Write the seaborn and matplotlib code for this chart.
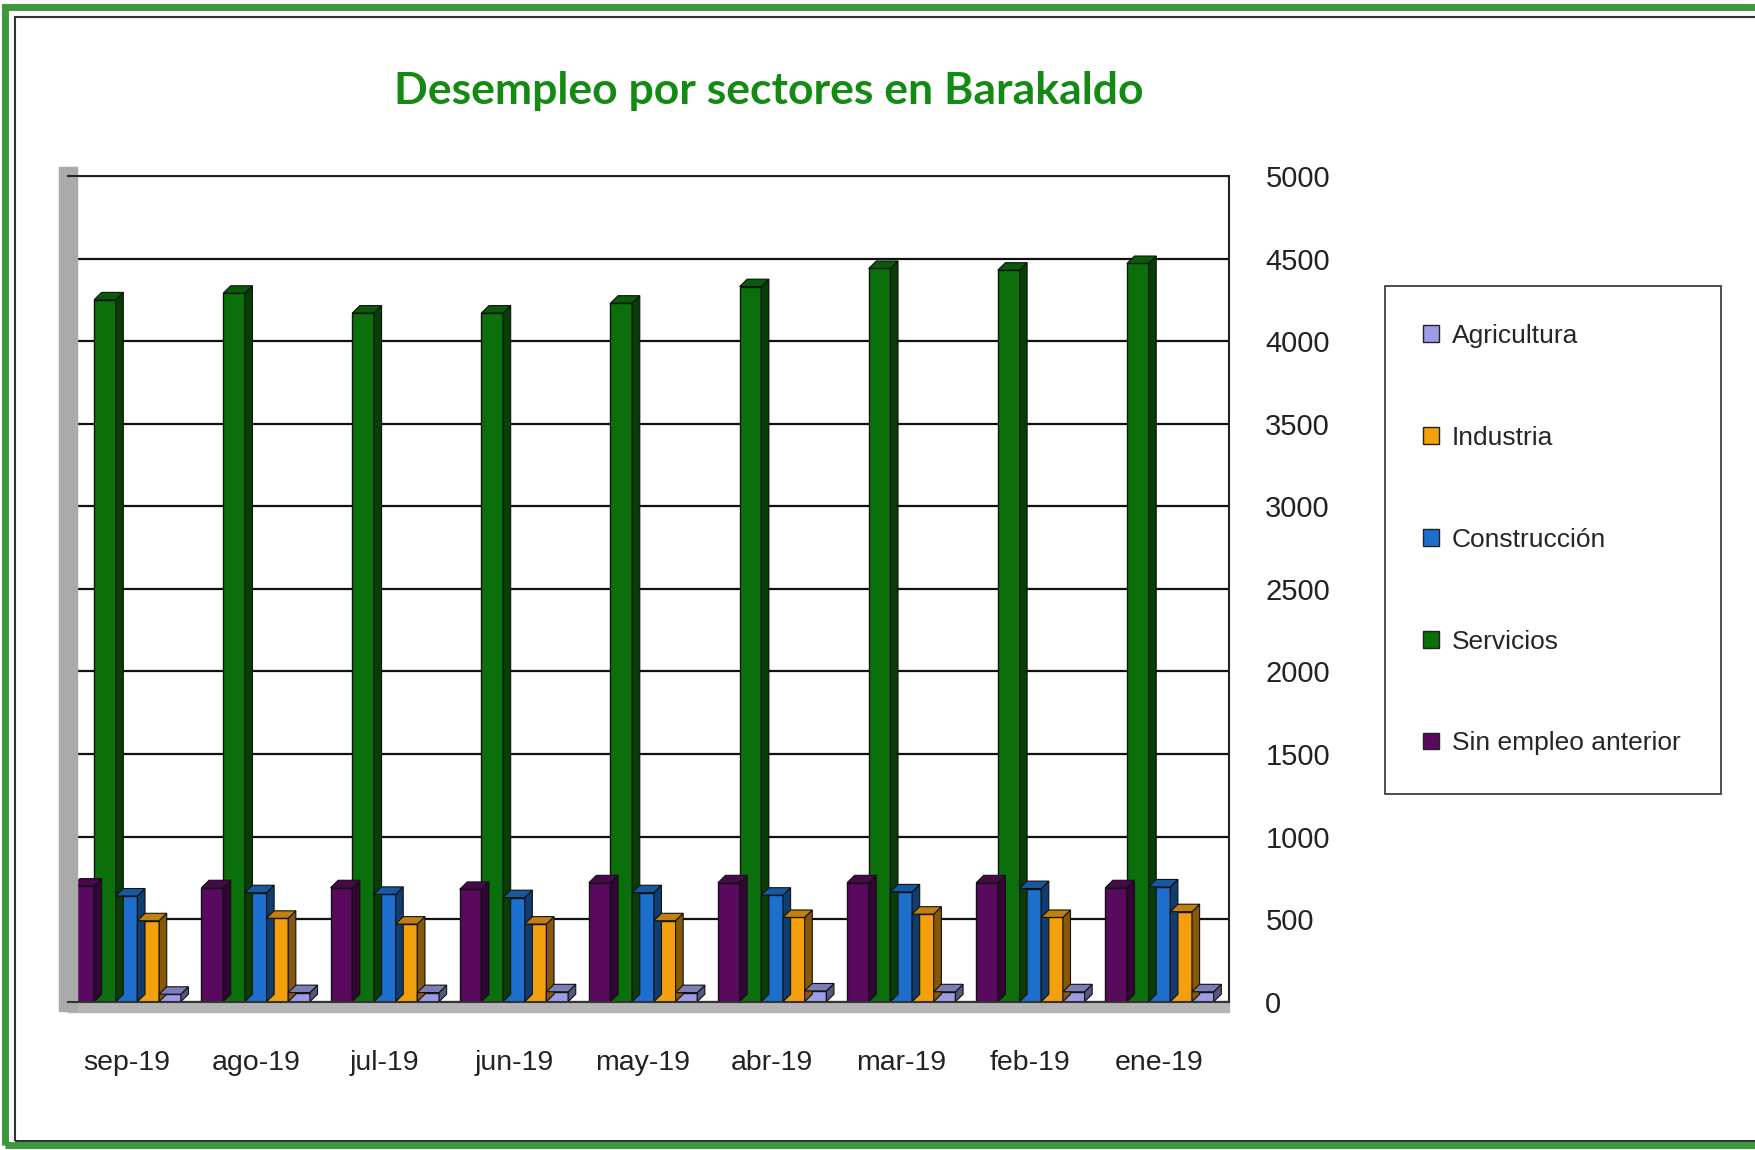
import numpy as np
import pandas as pd
import matplotlib
matplotlib.use("Agg")
import matplotlib.pyplot as plt
from matplotlib.patches import Polygon, Rectangle
import seaborn as sns

# Datos
months = ["sep-19", "ago-19", "jul-19", "jun-19", "may-19", "abr-19", "mar-19", "feb-19", "ene-19"]
sin_empleo = [700, 690, 690, 680, 720, 720, 720, 720, 690]
servicios = [4250, 4290, 4170, 4170, 4230, 4330, 4440, 4430, 4470]
construccion = [640, 660, 650, 630, 660, 645, 665, 685, 695]
industria = [490, 505, 470, 470, 490, 510, 530, 510, 545]
agricultura = [45, 55, 55, 60, 55, 65, 60, 60, 60]

sectors = ["Sin empleo anterior", "Servicios", "Construcción", "Industria", "Agricultura"]
colors = ["#5a0a5e", "#0b700b", "#1c6fcc", "#f4a00c", "#9c9ce6"]

df = pd.DataFrame({
    "mes": months * 5,
    "sector": np.repeat(sectors, len(months)),
    "valor": sin_empleo + servicios + construccion + industria + agricultura,
})

sns.set_style("white")
plt.rcParams["font.family"] = ["Liberation Sans", "DejaVu Sans"]

fig = plt.figure(figsize=(17.56, 11.5), dpi=100)
ax = fig.add_axes([0.039, 0.129, 0.661, 0.718])

sns.barplot(data=df, x="mes", y="valor", hue="sector", order=months,
            hue_order=sectors, palette=colors, width=0.84, dodge=True,
            edgecolor="#111111", linewidth=1.0, saturation=1, ax=ax, legend=True)

# efecto 3D sencillo: cara lateral y superior de cada barra
def darker(c, f=0.55):
    r, g, b, _ = matplotlib.colors.to_rgba(c)
    return (r * f, g * f, b * f)

dx_frac = 0.35
dy = 45
for p in list(ax.patches):
    if p.get_height() <= 0 or p.get_width() >= 1:
        continue
    x0, w, h = p.get_x(), p.get_width(), p.get_height()
    fc = p.get_facecolor()
    dx = w * dx_frac
    side = Polygon([(x0 + w, 0), (x0 + w + dx, dy), (x0 + w + dx, h + dy), (x0 + w, h)],
                   closed=True, facecolor=darker(fc), edgecolor="#111111", linewidth=0.8, zorder=p.get_zorder())
    top = Polygon([(x0, h), (x0 + dx, h + dy), (x0 + w + dx, h + dy), (x0 + w, h)],
                  closed=True, facecolor=darker(fc, 0.8), edgecolor="#111111", linewidth=0.8, zorder=p.get_zorder())
    ax.add_patch(side)
    ax.add_patch(top)

ax.set_ylim(0, 5000)
ax.set_xlim(-0.45, 8.54)
ax.set_yticks(range(0, 5001, 500))
ax.yaxis.tick_right()
ax.grid(axis="y", color="#111111", linewidth=1.6)
ax.set_axisbelow(True)
ax.tick_params(axis="y", labelsize=21, length=0, pad=26, labelcolor="#222222")
ax.tick_params(axis="x", labelsize=20.5, length=0, pad=35, labelcolor="#222222")
ax.set_xlabel("")
ax.set_ylabel("")

# suelo y pared
ax.axhspan(-60, 0, color="#b5b5b5", zorder=0, clip_on=False)
for s in ["top", "right"]:
    ax.spines[s].set_color("#222222")
    ax.spines[s].set_linewidth(1.5)
ax.spines["left"].set_color("#aaaaaa")
ax.spines["left"].set_linewidth(14)
ax.spines["bottom"].set_color("#333333")
ax.spines["bottom"].set_linewidth(1.5)

# leyenda en orden inverso
handles, labels = ax.get_legend_handles_labels()
leg = ax.legend(handles[::-1], labels[::-1], loc="upper left",
                bbox_to_anchor=(1.134, 0.0, 0.29, 0.867), mode="expand",
                frameon=True, fontsize=19, labelspacing=2.95,
                handlelength=0.6, handleheight=0.6, handletextpad=0.5,
                borderpad=1.45, fancybox=False, borderaxespad=0)
leg.get_frame().set_edgecolor("#111111")
leg.get_frame().set_linewidth(1.3)
for h in leg.legend_handles:
    h.set_edgecolor("#222222")

fig.text(0.438, 0.921, "Desempleo por sectores en Barakaldo", ha="center", va="center",
         fontsize=32, fontweight="bold", color="#148a14", family=["Lato", "DejaVu Sans"])

# marcos exteriores
fig.patches.append(Rectangle((0.003, 0.004), 1.2, 0.99, transform=fig.transFigure,
                             fill=False, edgecolor="#3a9a3a", linewidth=5))
fig.patches.append(Rectangle((0.0085, 0.0075), 1.2, 0.978, transform=fig.transFigure,
                             fill=False, edgecolor="#333333", linewidth=1.5))

fig.savefig("out.png", dpi=100)
